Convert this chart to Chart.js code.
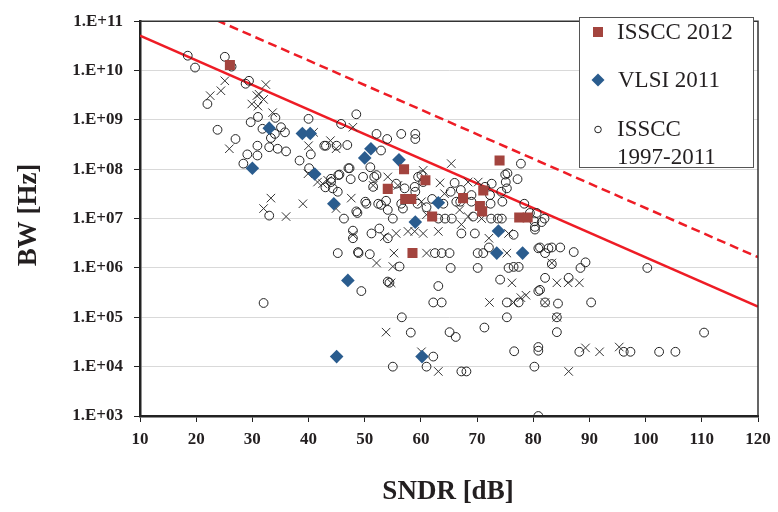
<!DOCTYPE html>
<html>
<head>
<meta charset="utf-8">
<script src="https://cdn.jsdelivr.net/npm/chart.js@4/dist/chart.umd.min.js"></script>
<style>
html,body{margin:0;padding:0;background:#fff;}
#wrap{width:778px;height:512px;}
</style>
</head>
<body>
<div id="wrap"><canvas id="c" width="778" height="512"></canvas></div>
<script>
// ---- data ----
const xTicks = [10,20,30,40,50,60,70,80,90,100,110,120];
const yTicks = [1e3,1e4,1e5,1e6,1e7,1e8,1e9,1e10,1e11];
const yTickLabels = ["1.E+03","1.E+04","1.E+05","1.E+06","1.E+07","1.E+08","1.E+09","1.E+10","1.E+11"];
const xTitle = "SNDR [dB]";
const yTitle = "BW [Hz]";
const legendLabels = [["ISSCC 2012"],["VLSI 2011"],["ISSCC","1997-2011"]];

const isscc2012 = [[26,1.3e10],[74,1.5e8],[57,1.0e8],[60.8,6e7],[54.1,4e7],[57.2,2.5e7],[58.3,2.5e7],[62,1.1e7],
  [67.5,2.6e7],[71.1,3.7e7],[70.5,1.8e7],[70.9,1.4e7],[77.5,1.05e7],[79,1.05e7],[58.5,2e6]];

const vlsi2011 = [[30,1.05e8],[33,6.8e8],[38.9,5.3e8],[40.3,5.3e8],[41.1,8e7],[44.5,2e7],[47,5.6e5],[45,1.6e4],
  [50,1.7e8],[51.1,2.6e8],[56.1,1.55e8],[59,8.5e6],[63.1,2.1e7],[73.8,5.6e6],[73.5,2e6],[78.1,2e6],[60.2,1.6e4]];

const issccPast = [[18.5,2e10],[19.8,1.15e10],[25.1,1.9e10],[26.3,1.2e10],[28.8,5.4e9],[29.4,6.2e9],[22,2.1e9],
  [23.8,6.3e8],[27,4.1e8],[29.7,9e8],[31,1.15e9],[31.8,6.6e8],[30.9,3e8],[29.1,2e8],[28.4,1.3e8],[30.9,1.9e8],
  [33,2.8e8],[33.3,4.3e8],[34,5.2e8],[34.1,1.1e9],[34.5,2.6e8],[33,1.15e7],[35.1,7.1e8],[35.8,5.6e8],[40,1.05e9],
  [36,2.3e8],[40.4,2e8],[38.4,1.5e8],[40.1,1.05e8],[42.8,3e8],[46.9,3.1e8],[45.8,8.3e8],[48.5,1.3e9],[45.5,7.8e7],
  [47.5,6.3e7],[47.1,1.05e8],[44,5.5e7],[44.3,4.1e7],[43,4.3e7],[52.1,5.2e8],[54,4.1e8],[56.5,5.2e8],[59,5.2e8],
  [59,4.1e8],[52.9,2.4e8],[51,1.1e8],[52.1,7.6e7],[51.5,4.4e7],[50.1,2.2e7],[48.7,1.3e7],[46.3,1e7],[52.9,1.9e7],
  [53.8,2.3e7],[54.1,1.5e7],[55,1e7],[56.8,1.6e7],[58.9,4.4e7],[59.5,7e7],[55.6,5.1e7],[57.1,4.1e7],[51.2,5e6],
  [52.6,6.3e6],[54.1,4e6],[47.9,5.7e6],[45.2,2e6],[48.9,2e6],[50.9,1.9e6],[56.2,1.07e6],[54.1,5.3e5],[49.4,3.4e5],
  [77.8,1.3e8],[75.4,8.3e7],[77.2,6.3e7],[75.1,5.5e7],[75.3,4.1e7],[72.6,5.1e7],[66,5.3e7],[67.1,3.8e7],[69,3e7],
  [72.3,3e7],[74.3,3.5e7],[74.5,2.2e7],[72.4,2e7],[69,2.2e7],[65.3,3.5e7],[59,3.5e7],[61,1.7e7],[78.4,2e7],
  [79.4,1.3e7],[80.2,8.8e6],[82,1e7],[63.1,1e7],[64.3,1e7],[65.5,1e7],[69.3,1.1e7],[72.5,1e7],[73.7,1e7],[74.4,1e7],
  [67.2,5e6],[69.6,5e6],[76.5,4.7e6],[72.1,2.6e6],[62.5,2e6],[63.7,2e6],[65.1,2e6],[70.1,2e6],[71.1,2e6],[81.2,2.6e6],
  [82.1,2e6],[83.3,2.6e6],[84.8,2.6e6],[65.3,1e6],[70.1,1e6],[75.6,1e6],[76.5,1.05e6],[77.4,1.05e6],[74.1,5.8e5],
  [82.1,6.3e5],[63.1,4.3e5],[81.2,3.6e5],[44,6.4e7],[32,1.95e5],[43.1,3e8],[54.4,5e5],[62.2,2e5],[63.7,2e5],
  [75.3,2e5],[77.4,2e5],[80.9,3.4e5],[56.6,1e5],[75.3,1e5],[58.2,4.9e4],[65.1,5e4],[66.2,4e4],[71.3,6.2e4],[55,1e4],
  [61,1e4],[62.2,1.6e4],[67.2,8e3],[68.1,8e3],[76.6,2.05e4],[80.9,2.5e4],[80.9,2.1e4],[80.2,1e4],[80.9,1e3],
  [86.3,6.3e5],[82.1,2e5],[84.4,1.9e5],[90.3,2e5],[84.2,1e5],[84.2,5e4],[110.4,4.9e4],[88.2,2e4],[96.1,2e4],
  [97.3,2e4],[102.4,2e4],[105.3,2e4],[80.6,1.3e7],[81.5,8.5e6],[80.3,6e6],[80.9,2.5e6],[82.7,2.5e6],[87.2,2.1e6],
  [89.3,1.3e6],[88.4,1e6],[100.3,1e6],[83.3,1.2e6],[45,3e8],[47.3,1.05e8],[45.3,7.6e7],[49.7,7e7],[51.7,7e7],
  [45.2,3.5e7],[50.3,2e7],[48.5,1.4e7],[52.4,2e7],[56.5,2e7],[59.4,2e7],[60.1,7.6e7],[60.4,5.5e7],[62,2.5e7],
  [64,2e7],[66.3,2.2e7],[67,2.2e7],[71.4,4.4e7],[48.8,2.1e6],[47.9,4e6],[75,7.8e7],[80.3,6.8e6]];

const otherPast = [[25.1,6.2e9],[24.4,3.9e9],[22.5,3.1e9],[32.4,5.2e9],[30.8,3.1e9],[32,2.6e9],[29.9,2.1e9],
  [31,1.9e9],[33.6,1.4e9],[25.9,2.6e8],[33.3,2.6e7],[32,1.6e7],[31.2,3.3e9],[40.9,5.6e8],[43.9,3.8e8],[40,3e8],
  [44.9,2.6e8],[47.9,7.1e8],[39.9,8.1e7],[41.6,5.5e7],[42.5,5.1e7],[43.4,6e7],[39,2e7],[36,1.1e7],[47.6,2.6e7],
  [44.9,1.6e7],[47.9,4.7e6],[55.2,2e6],[52.1,1.26e6],[55,1.07e6],[54.7,5e5],[54.1,7e7],[58.9,5.5e6],[55.6,5e6],
  [65.4,1.3e8],[60.4,9.5e7],[63.4,5.3e7],[68.4,5.5e7],[70.2,5.5e7],[64.2,3.2e7],[60.1,2.2e7],[68.4,1.1e7],
  [70.8,1e7],[67.2,7.6e6],[63.1,5.5e6],[60.4,5e6],[72.1,4e6],[75.6,5e6],[61,2e6],[75.3,2e6],[76.2,5e5],[84.2,5e5],
  [83.3,1.26e6],[51.5,4.7e7],[55.9,4.7e7],[61,1.2e7],[66.9,1.5e7],[71.1,1.4e7],[57.7,5.5e6],[53.5,4.3e6],
  [53.8,5e4],[60.1,2e4],[63.1,8e3],[72.2,2e5],[76.5,2e5],[77.8,2.5e5],[78.7,2.8e5],[86.2,5e5],[88.2,5e5],
  [82.1,2e5],[84.2,1e5],[89.3,2.4e4],[91.8,2e4],[95.3,2.5e4],[86.3,8e3]];

const jitterLine1ps = [[10,5.1e10],[120,1.65e5]];
const jitterLine01ps = [[10,5e11],[120,1.65e6]];

// ---- styles ----
const RED_SQ = '#A3443E';
const BLUE_DI = '#2A5C8E';
const LINE_RED = '#EE1C25';
const SERIF = '"Liberation Serif","Times New Roman",serif';

const toXY = a => a.map(p => ({x:p[0], y:p[1]}));

const extras = {
  id:'extras',
  afterDraw(chart){
    const ctx = chart.ctx, a = chart.chartArea;
    ctx.save();
    ctx.strokeStyle = '#333'; ctx.lineWidth = 1.5;
    ctx.beginPath();
    ctx.moveTo(a.left, a.top); ctx.lineTo(a.right, a.top); ctx.lineTo(a.right, a.bottom);
    ctx.stroke();
    ctx.fillStyle = '#231f20';
    ctx.font = 'bold 27px ' + SERIF;
    ctx.textAlign = 'center'; ctx.textBaseline = 'middle';
    ctx.fillText(xTitle, 448, 492);
    ctx.save();
    ctx.translate(29, 215); ctx.rotate(-Math.PI/2);
    ctx.fillText(yTitle, 0, 0);
    ctx.restore();
    const lx = 579, ly = 17, lw = 174, lh = 150;
    ctx.fillStyle = '#fff';
    ctx.fillRect(lx, ly, lw, lh);
    ctx.strokeStyle = '#555'; ctx.lineWidth = 1;
    ctx.strokeRect(lx+0.5, ly+0.5, lw, lh);
    ctx.fillStyle = RED_SQ; ctx.fillRect(593, 27, 10, 10);
    ctx.fillStyle = BLUE_DI;
    ctx.beginPath(); ctx.moveTo(598,73.5); ctx.lineTo(604.5,80); ctx.lineTo(598,86.5); ctx.lineTo(591.5,80); ctx.closePath(); ctx.fill();
    ctx.strokeStyle = '#222'; ctx.lineWidth = 1;
    ctx.beginPath(); ctx.arc(598, 129.5, 3.3, 0, Math.PI*2); ctx.stroke();
    ctx.fillStyle = '#231f20';
    ctx.font = '23px ' + SERIF;
    ctx.textAlign = 'left'; ctx.textBaseline = 'middle';
    ctx.fillText(legendLabels[0][0], 617, 33);
    ctx.fillText(legendLabels[1][0], 618, 81);
    ctx.fillText(legendLabels[2][0], 617, 130);
    ctx.fillText(legendLabels[2][1], 617, 158);
    ctx.restore();
  }
};

const tickFont = {family: SERIF, size: 17, weight: 'bold'};

new Chart(document.getElementById('c'), {
  type: 'scatter',
  data: {
    datasets: [
      {label:'ISSCC 2012', data: toXY(isscc2012), pointStyle:'rect', pointRadius:7.1, backgroundColor:RED_SQ, borderColor:RED_SQ, borderWidth:0},
      {label:'VLSI 2011', data: toXY(vlsi2011), pointStyle:'rectRot', pointRadius:6.8, backgroundColor:BLUE_DI, borderColor:BLUE_DI, borderWidth:0},
      {label:'ISSCC 1997-2011', data: toXY(issccPast), pointStyle:'circle', pointRadius:4.4, backgroundColor:'rgba(0,0,0,0)', borderColor:'#222', borderWidth:1},
      {label:'other', data: toXY(otherPast), pointStyle:'crossRot', pointRadius:6, backgroundColor:'#333', borderColor:'#333', borderWidth:1},
      {label:'1ps', type:'line', data: toXY(jitterLine1ps), showLine:true, pointRadius:0, borderColor:LINE_RED, borderWidth:2.5, fill:false},
      {label:'0.1ps', type:'line', data: toXY(jitterLine01ps), showLine:true, pointRadius:0, borderColor:LINE_RED, borderWidth:2.5, borderDash:[9,5], fill:false}
    ]
  },
  options: {
    responsive:false, animation:false,
    layout:{padding:{left:0, right:20, top:18, bottom:0}},
    plugins:{legend:{display:false}, tooltip:{enabled:false}},
    scales:{
      x:{type:'linear', min:10, max:120,
         afterBuildTicks: s => { s.ticks = xTicks.map(v => ({value:v})); },
         ticks:{font:tickFont, color:'#231f20', padding:7, autoSkip:false, maxRotation:0},
         grid:{drawOnChartArea:false, tickLength:6, color:'#222'},
         border:{color:'#222', width:2.5},
         afterFit: s => { s.height = 96; }},
      y:{type:'logarithmic', min:1e3, max:1e11,
         afterBuildTicks: s => { s.ticks = yTicks.map(v => ({value:v})); },
         ticks:{font:tickFont, color:'#231f20', padding:11, autoSkip:false,
                callback: (v) => { const i = yTicks.indexOf(v); return i >= 0 ? yTickLabels[i] : ''; }},
         grid:{color:'#d9d9d9', tickColor:'#222', tickLength:6, lineWidth:1},
         border:{color:'#222', width:2.5},
         afterFit: s => { s.width = 140; }}
    }
  },
  plugins:[extras]
});
</script>
</body>
</html>
